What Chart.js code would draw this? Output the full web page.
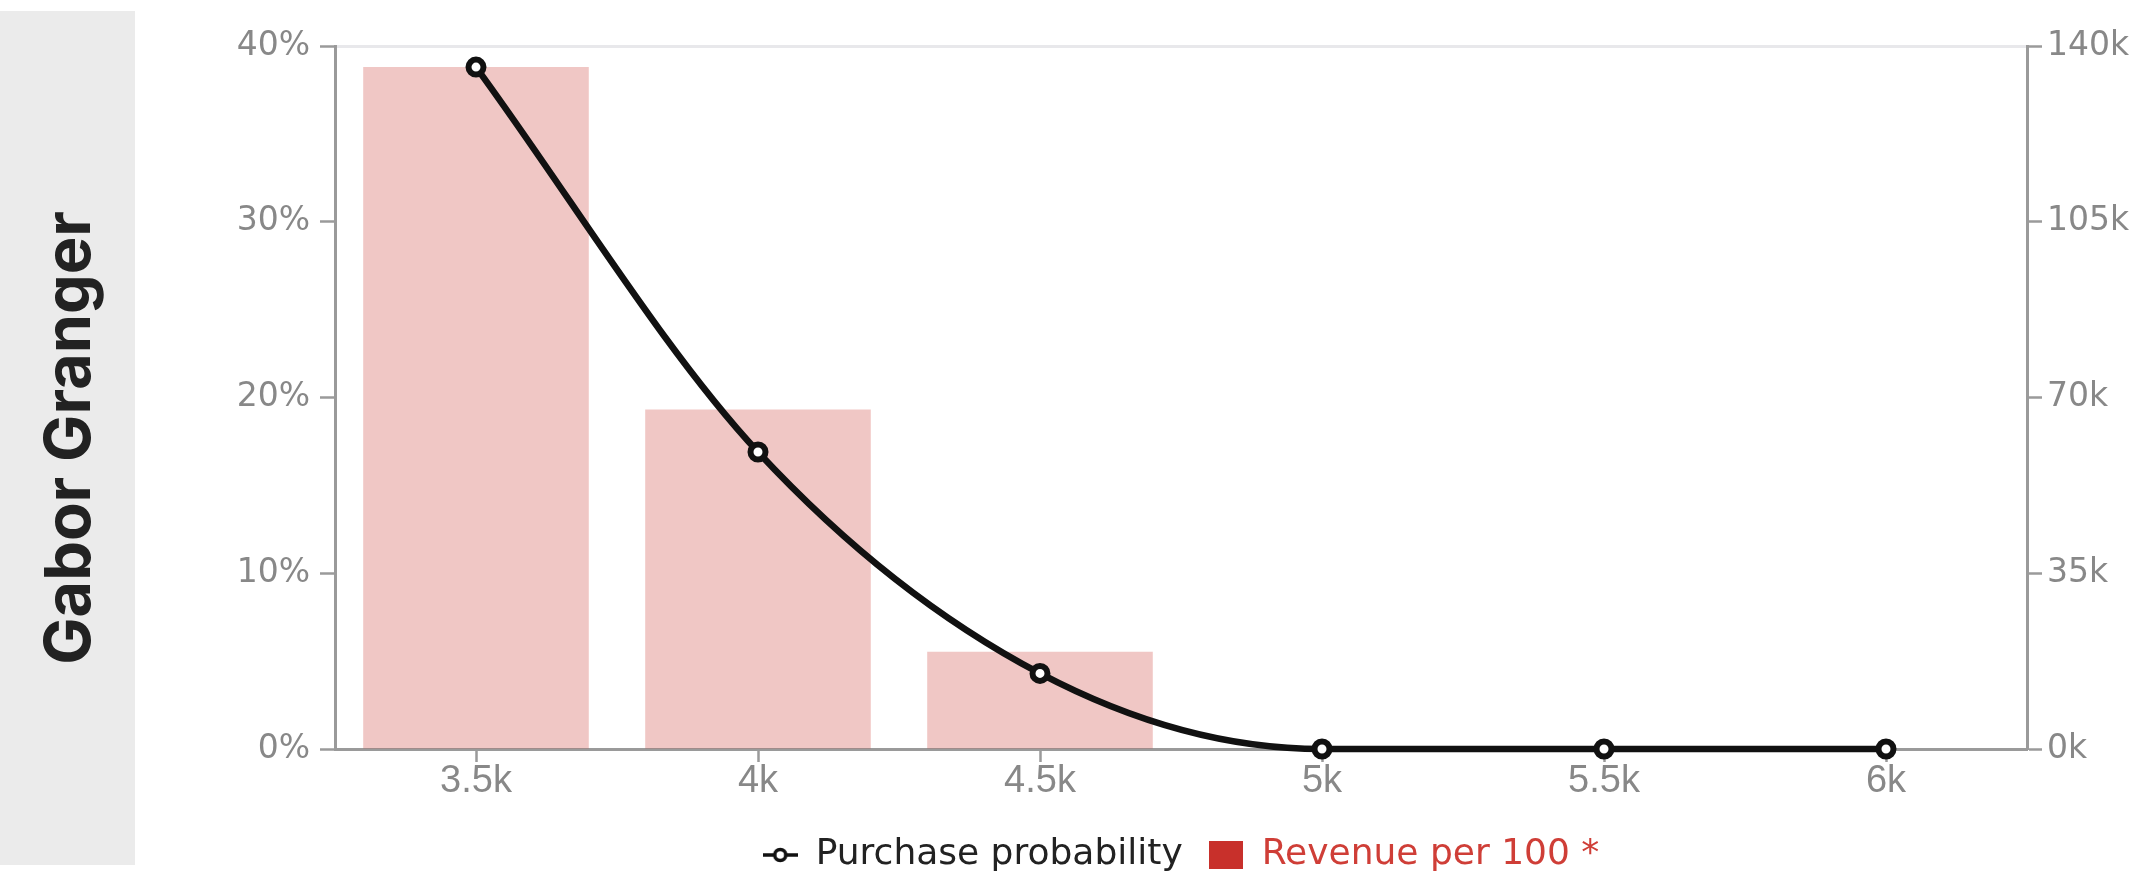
<!DOCTYPE html>
<html lang="en">
  <head>
    <meta charset="UTF-8" />
    <title>Gabor Granger</title>
    <script src="https://cdn.jsdelivr.net/npm/chart.js"></script>
    <style>
      html,
      body {
        margin: 0;
        padding: 0;
        background: #fff;
      }
      .page {
        position: relative;
        width: 2140px;
        height: 875px;
        overflow: hidden;
      }
      .side-label {
        position: absolute;
        left: 0;
        top: 11px;
        width: 135px;
        height: 854px;
        background: #ebebeb;
        display: flex;
        align-items: center;
        justify-content: center;
      }
      .side-label span {
        writing-mode: vertical-rl;
        transform: rotate(180deg);
        font-family: Inter, sans-serif;
        font-weight: 700;
        font-size: 63px;
        line-height: 1;
        color: #222;
      }
      #gaborChart {
        position: absolute;
        left: 0;
        top: 0;
      }
    </style>
  </head>
  <body>
    <div class="page">
      <div class="side-label"><span>Gabor Granger</span></div>
      <canvas id="gaborChart" width="2140" height="875"></canvas>
    </div>
    <script>
      // price points tested
      const priceLabels = ["3.5k", "4k", "4.5k", "5k", "5.5k", "6k"];
      // share of respondents who would buy at each price (%)
      const purchaseProbability = [38.8, 16.9, 4.3, 0, 0, 0];
      // expected revenue for every 100 respondents
      const revenuePer100 = [135800, 67600, 19350, 0, 0, 0];

      const axisGray = "#9a9a9a";
      const labelGray = "#888";
      const revenueRed = "#c8302b";

      // little legend swatches
      function lineIcon() {
        const c = document.createElement("canvas");
        c.width = 35;
        c.height = 20;
        const g = c.getContext("2d");
        g.strokeStyle = "#111";
        g.lineWidth = 3.5;
        g.beginPath();
        g.moveTo(0, 10);
        g.lineTo(35, 10);
        g.stroke();
        g.beginPath();
        g.arc(17.5, 10, 5.5, 0, Math.PI * 2);
        g.fillStyle = "#fff";
        g.fill();
        g.stroke();
        return c;
      }

      function boxIcon() {
        const c = document.createElement("canvas");
        c.width = 34;
        c.height = 28;
        const g = c.getContext("2d");
        g.fillStyle = revenueRed;
        g.fillRect(0, 0, 34, 28);
        return c;
      }

      const ctx = document.getElementById("gaborChart").getContext("2d");
      new Chart(ctx, {
        type: "bar",
        data: {
          labels: priceLabels,
          datasets: [
            {
              type: "line",
              label: "Purchase probability",
              data: purchaseProbability,
              yAxisID: "y",
              order: 0,
              borderColor: "#111",
              borderWidth: 6.5,
              cubicInterpolationMode: "monotone",
              pointRadius: 7.5,
              pointBorderWidth: 6,
              pointBackgroundColor: "#fff",
              pointBorderColor: "#111",
              clip: false,
            },
            {
              label: "Revenue per 100",
              data: revenuePer100,
              yAxisID: "y1",
              order: 1,
              backgroundColor: "rgba(200, 48, 42, 0.27)",
              categoryPercentage: 0.8,
              barPercentage: 1,
            },
          ],
        },
        options: {
          responsive: false,
          animation: false,
          layout: { padding: { top: 46, left: 0, right: 0, bottom: -8 } },
          plugins: {
            tooltip: { enabled: false },
            legend: {
              position: "bottom",
              fullSize: false,
              labels: {
                usePointStyle: true,
                pointStyleWidth: 35,
                boxHeight: 28,
                padding: 26,
                font: { family: "DejaVu Sans", size: 36, lineHeight: 1 },
                generateLabels: () => [
                  {
                    text: "Purchase probability",
                    pointStyle: lineIcon(),
                    fontColor: "#222",
                    fillStyle: "transparent",
                    strokeStyle: "transparent",
                    lineWidth: 0,
                    datasetIndex: 0,
                  },
                  {
                    text: "Revenue per 100 *",
                    pointStyle: boxIcon(),
                    fontColor: "#cf3e37",
                    fillStyle: "transparent",
                    strokeStyle: "transparent",
                    lineWidth: 0,
                    datasetIndex: 1,
                  },
                ],
              },
            },
          },
          scales: {
            x: {
              offset: true,
              grid: {
                offset: false,
                drawOnChartArea: false,
                tickLength: 13,
                tickColor: axisGray,
                tickWidth: 2.5,
              },
              border: { color: axisGray, width: 3 },
              ticks: {
                color: labelGray,
                padding: -3,
                font: { family: "Liberation Sans", size: 38 },
              },
              afterFit: (s) => {
                s.height = 62;
              },
            },
            y: {
              position: "left",
              min: 0,
              max: 40,
              ticks: {
                stepSize: 10,
                padding: 10,
                color: labelGray,
                font: { family: "DejaVu Sans", size: 33 },
                callback: (v) => v + "%",
              },
              grid: {
                color: (c) => (c.tick && c.tick.value === 40 ? "#e8e8eb" : "rgba(0,0,0,0)"),
                lineWidth: 3,
                tickColor: axisGray,
                tickLength: 15,
                tickWidth: 2.5,
              },
              border: { color: axisGray, width: 3 },
              afterFit: (s) => {
                s.width = 335;
              },
            },
            y1: {
              position: "right",
              min: 0,
              max: 140000,
              ticks: {
                stepSize: 35000,
                padding: 5,
                color: labelGray,
                font: { family: "DejaVu Sans", size: 33 },
                callback: (v) => v / 1000 + "k",
              },
              grid: {
                drawOnChartArea: false,
                tickColor: axisGray,
                tickLength: 15,
                tickWidth: 2.5,
              },
              border: { color: axisGray, width: 3 },
              afterFit: (s) => {
                s.width = 113;
              },
            },
          },
        },
      });
    </script>
  </body>
</html>
